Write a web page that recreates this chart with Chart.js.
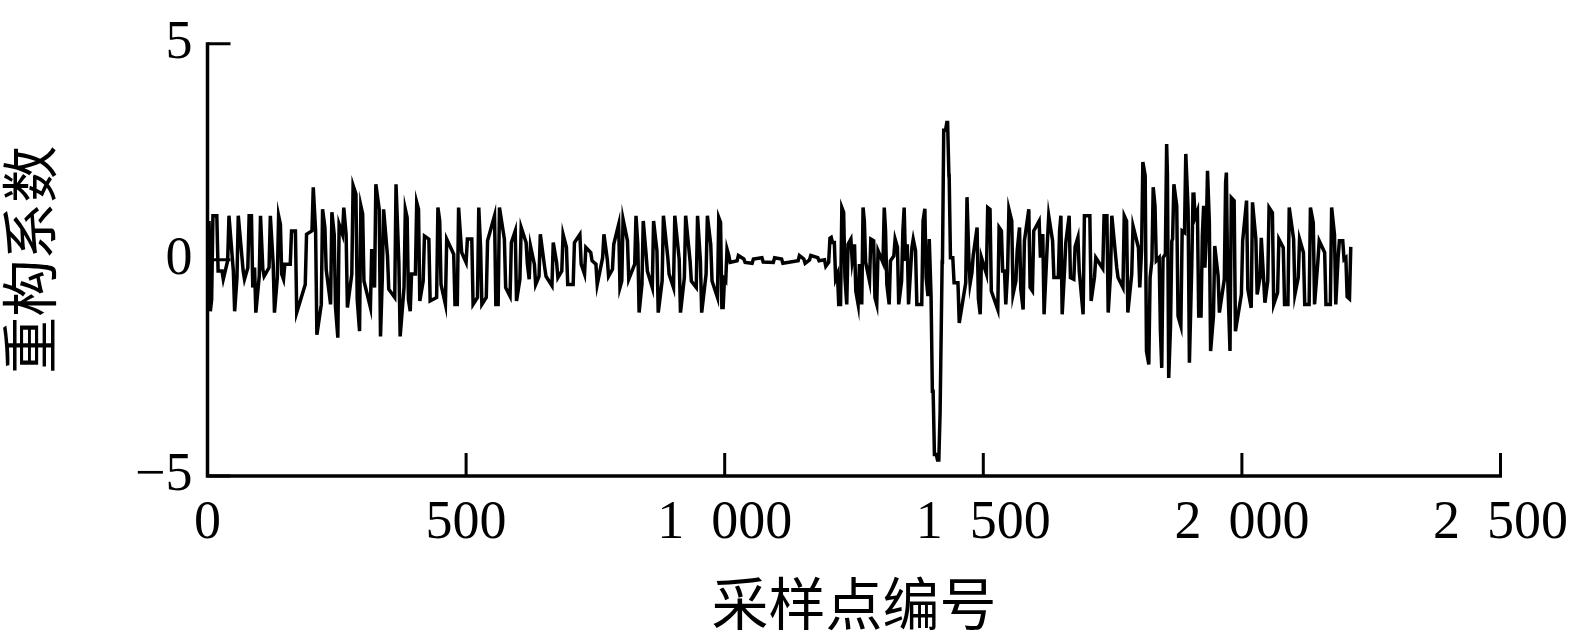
<!DOCTYPE html>
<html>
<head>
<meta charset="utf-8">
<script src="https://cdn.jsdelivr.net/npm/chart.js@4.4.1/dist/chart.umd.min.js"></script>
<style>
html,body{margin:0;padding:0;background:#fff;overflow:hidden}
#wrap{width:1589px;height:644px;position:relative}
</style>
</head>
<body>
<div id="wrap"><canvas id="c" width="1589" height="644"></canvas></div>
<script>
// ---- axis text ----
const xTickValues = [0, 500, 1000, 1500, 2000, 2500];
const xTickLabels = ['0', '500', '1\u2002000', '1\u2002500', '2\u2002000', '2\u2002500'];
const yTickValues = [-5, 0, 5];
const yTickLabels = ['\u22125', '0', '5'];
const xTitle = '采样点编号';
const yTitle = '重构系数';

// ---- signal: sample number, upper and lower end ----
const strokeSample = [
  3, 8, 18, 28, 39, 50, 57, 69, 78, 85, 91, 100, 107, 119, 127, 135, 141, 147, 160, 170,
  189, 202, 209, 220, 227, 238, 245, 252, 261, 268, 279, 287, 294, 300, 315, 323, 332, 338, 348, 362,
  370, 380, 386, 392, 402, 408, 417, 428, 443, 449, 460, 476,
  483, 489, 500, 511, 522, 528, 539, 555, 562, 574, 585, 595, 604, 616, 622, 632, 641, 652,
  666, 675, 685, 694, 707, 720, 729, 741, 751, 764, 773, 783, 795, 801, 812, 826, 832, 840, 848, 860,
  869, 879, 890, 901, 912, 922, 933, 945, 953, 964, 973, 986, 992, 997, 1002, 1008,
  1024, 1037, 1053, 1072, 1094, 1110, 1142, 1153, 1164, 1180, 1193,
  1201, 1206, 1212, 1218, 1224, 1230, 1236, 1244, 1251, 1258, 1265, 1270, 1280, 1288, 1294, 1306, 1311, 1318,
  1327, 1334, 1342, 1347, 1353, 1362, 1369, 1381, 1387, 1393,
  1399, 1403, 1409, 1414, 1418, 1421, 1427, 1431, 1434, 1441, 1451, 1466, 1472, 1478, 1488, 1494, 1506,
  1513, 1528, 1535, 1541, 1547, 1555, 1563, 1570, 1577, 1588, 1595, 1608, 1615, 1624, 1634, 1645, 1650, 1657,
  1666, 1675, 1683, 1693, 1706, 1715, 1731, 1739, 1746, 1758, 1770, 1777, 1787, 1800,
  1806, 1813, 1820, 1826, 1832, 1840, 1845, 1852, 1856, 1862, 1866, 1874, 1882, 1889, 1896, 1903, 1907, 1914,
  1921, 1926, 1931, 1937, 1945, 1954, 1966, 1970, 1977, 1985, 1999, 2009, 2018, 2027, 2035, 2042, 2050, 2059,
  2069, 2080, 2089, 2100, 2109, 2119, 2130, 2138, 2147, 2160, 2171, 2179, 2186, 2195, 2201, 2208
];
const strokeHigh = [
  0.90, 1.02, 1.02, -0.26, 1.02, -0.26, 1.02, -0.26, 1.02, 1.02, -0.18, 1.02, -0.22, 1.02, -0.10, 1.02, 0.82, -0.10, 0.67, 0.67,
  0.59, 1.68, 0.67, 1.17, 0.75, 1.10, 0.59, 0.82, 1.21, 0.59, 1.72, 1.52, 1.25, 1.06, 0.25, 1.75, 1.17, 1.17, 0.09, 1.75,
  -0.06, 1.17, 0.98, -0.33, 1.33, 1.17, 0.55, 0.48, 1.21, 0.90, 0.48, 0.13,
  1.21, 0.59, 0.48, 0.48, 1.21, 0.29, 0.44, 1.02, 1.21, 0.48, 0.40, 0.67, 0.75, 0.40, 0.32, -0.10, 0.59, -0.18,
  0.40, -0.06, 0.59, 0.29, 0.40, 0.59, 0.29, 0.17, -0.10, 0.59, 0.01, 0.36, 0.82, 0.94, 0.44, 1.02, 0.36, 0.90, 0.13, 0.90,
  0.21, 1.02, 0.05, 1.02, 0.01, 1.02, -0.02, 1.02, -0.02, 1.02, 0.36, 0.98, 0.87, -0.45, 0.25, 0.10,
  0.10, 0.02, 0.02, 0.05, 0.05, 0.02, 0.10, 0.02, 0.10, 0.05, 0.00,
  0.50, 0.52, 0.40, -0.33, 1.21, 1.10, 0.36, 0.48, 0.36, -0.10, 1.21, 0.90, 0.48, 0.44, 0.21, 1.21, 0.67, -0.02,
  0.48, 0.29, 0.67, 1.21, 0.36, 0.48, 0.21, 0.90, 1.18, 0.48,
  -0.84, -3.04, -4.50, -3.51, 0.00, 3.00, 3.18, 3.18, 1.95, 0.05, -0.53, 1.45, 0.05, 0.10, 0.75, 0.05, 1.21,
  1.17, 0.75, 0.67, -0.26, 1.17, 0.90, 0.21, 0.75, 0.44, 1.17, 0.67, 0.90, 0.60, 1.02, 0.44, 0.67, 1.02, 0.40,
  1.02, 0.30, 0.52, 1.02, 1.02, 0.05, 1.02, 1.02, 1.02, -0.18, 1.02, 0.90, 0.78, 0.28,
  2.26, 1.95, -0.41, 1.68, 1.25, 0.05, 0.05, 2.68, 1.99, 0.44, 1.75, 1.25, 0.67, 2.45, 1.17, 1.52, 1.56, 1.13,
  0.55, 1.25, 2.06, 0.90, 0.32, -0.37, 1.79, 2.02, 1.44, 1.37, 0.44, 1.37, 1.33, 0.48, 0.51, -0.45, 1.21, 1.09,
  0.48, 0.28, 1.21, 0.48, 0.48, 0.17, 1.21, 0.86, 0.44, 0.17, 1.21, 0.59, 0.44, 0.44, 0.05, 0.30
];
const strokeLow = [
  -1.19, -0.92, -0.26, -0.45, -0.02, -1.19, -0.41, -0.45, -0.18, -0.64, -1.22, -0.38, -0.38, -0.18, -1.22, -0.41, -0.33, -0.45, -0.10, -1.22,
  -0.57, 0.67, -1.73, -1.03, -0.22, -1.03, -1.10, -1.80, 0.59, -1.10, -0.33, -0.92, -1.65, -0.49, -1.10, -0.64, -1.77, -0.41, -0.68, -0.87,
  -1.77, -0.64, -0.92, -1.19, -0.33, -0.95, -0.49, -0.95, -0.87, -0.57, -1.03, -1.03,
  -1.03, 0.17, -0.06, -1.03, -0.87, -1.03, -0.87, -1.03, -1.03, -0.64, -0.84, -0.95, -0.45, -0.10, -0.45, -0.57, -0.38, -0.38,
  -0.60, -0.41, -0.26, -0.57, -0.57, -0.10, -0.33, -0.02, -0.57, 0.05, -0.38, -0.22, -0.64, -0.49, -0.45, -0.10, -1.22, -0.57, -0.26, -0.64,
  -1.22, -0.49, -0.33, -0.64, -1.22, -0.41, -0.49, -0.64, -1.22, -0.33, -0.49, -0.87, -1.10, -1.10, -0.49, -0.06,
  -0.02, -0.06, -0.08, -0.05, -0.06, -0.08, -0.02, -0.08, 0.00, -0.02, -0.15,
  -0.06, 0.40, -0.44, -1.03, -1.03, -0.41, -1.03, -0.02, -0.72, -1.03, -1.03, -0.06, -0.49, -0.87, -1.03, -0.06, -0.57, -1.03,
  0.09, -1.03, -0.49, -0.02, -1.03, 0.29, -1.03, -1.03, -0.41, -0.84,
  -3.04, -4.50, -4.63, -4.63, -3.51, -0.10, 3.00, 1.95, 0.05, -0.53, -1.46, -0.53, -0.55, -0.30, -0.90, -1.26, -0.32,
  -0.72, -1.15, -0.26, -1.03, -0.26, -0.80, -0.49, -0.68, -1.15, -0.64, -0.72, 0.05, -1.26, 0.44, -0.41, -0.41, -1.26, -0.26,
  -0.41, -0.45, -0.26, -1.26, -0.95, -0.40, -0.20, -1.22, -0.33, -0.41, -0.64, -1.22, -0.33, -0.64,
  0.21, -2.11, -2.42, -0.02, -0.02, -1.65, -2.50, 0.13, -2.73, -1.53, 0.48, -1.30, -1.53, 0.63, -2.38, -0.18, 0.98, -1.30,
  -1.30, -0.18, 0.55, -2.11, -1.30, -1.22, -0.45, -0.41, -2.11, -1.65, -0.80, -0.68, -1.11, -0.80, -0.41, -0.99, -0.49, -1.03,
  -0.76, -1.03, -1.03, -0.80, -0.41, -1.03, -1.03, -1.03, -0.02, -1.03, -1.03, -1.03, 0.05, 0.01, -0.85, -0.90
];

// build the polyline: each stroke starts at the end nearer to where the line is
const points = [];
let prev = 0;
for (let i = 0; i < strokeSample.length; i++) {
  const hi = strokeHigh[i], lo = strokeLow[i];
  const hiFirst = Math.abs(prev - hi) <= Math.abs(prev - lo);
  const a = hiFirst ? hi : lo, b = hiFirst ? lo : hi;
  points.push({x: strokeSample[i], y: a});
  points.push({x: strokeSample[i] + 2.5, y: b});
  prev = b;
}

const serif = '"Liberation Serif", "Times New Roman", serif';
const cjk = '"Noto Sans CJK SC", "Noto Sans CJK JP", sans-serif';

const axesPlugin = {
  id: 'axesPlugin',
  afterDraw(chart) {
    const {ctx, chartArea: a, scales: {x, y}} = chart;
    ctx.save();
    ctx.strokeStyle = '#000';
    ctx.lineCap = 'butt';
    ctx.lineWidth = 3;
    ctx.beginPath();
    xTickValues.forEach(v => {
      const px = x.getPixelForValue(v);
      ctx.moveTo(px, a.bottom);
      ctx.lineTo(px, a.bottom - 23);
    });
    yTickValues.forEach(v => {
      const py = y.getPixelForValue(v);
      ctx.moveTo(a.left, py);
      ctx.lineTo(a.left + 23, py);
    });
    ctx.stroke();
    ctx.lineWidth = 3.5;
    ctx.lineJoin = 'miter';
    ctx.beginPath();
    ctx.moveTo(a.left, a.top - 1.5);
    ctx.lineTo(a.left, a.bottom);
    ctx.lineTo(a.right + 1.5, a.bottom);
    ctx.stroke();
    ctx.restore();
  }
};

new Chart(document.getElementById('c'), {
  type: 'line',
  data: {
    datasets: [{
      data: points,
      borderColor: '#000',
      borderWidth: 3.5,
      borderJoinStyle: 'miter',
      pointRadius: 0,
      tension: 0,
      fill: false
    }]
  },
  options: {
    responsive: false,
    devicePixelRatio: 1,
    animation: false,
    parsing: false,
    layout: {padding: {top: 43.7, right: 69, bottom: 0, left: 0}},
    plugins: {legend: {display: false}, tooltip: {enabled: false}},
    scales: {
      x: {
        type: 'linear',
        min: 0, max: 2500,
        afterFit: s => { s.height = 644 - 476; },
        afterBuildTicks: s => { s.ticks = xTickValues.map(v => ({value: v})); },
        grid: {display: false, drawTicks: false},
        border: {display: false},
        ticks: {
          padding: 21,
          color: '#000',
          maxRotation: 0,
          autoSkip: false,
          font: {family: serif, size: 54, lineHeight: 1},
          callback: v => { const i = xTickValues.indexOf(v); return i >= 0 ? xTickLabels[i] : ''; }
        },
        title: {
          display: true, text: xTitle, color: '#000',
          font: {family: cjk, size: 57, lineHeight: 1},
          padding: {top: 0, bottom: 12}
        }
      },
      y: {
        type: 'linear',
        min: -5, max: 5,
        afterFit: s => { s.width = 207.5; },
        afterBuildTicks: s => { s.ticks = yTickValues.map(v => ({value: v})); },
        grid: {display: false, drawTicks: false},
        border: {display: false},
        ticks: {
          padding: 15,
          color: '#000',
          autoSkip: false,
          font: {family: serif, size: 54, lineHeight: 1},
          callback: v => { const i = yTickValues.indexOf(v); return i >= 0 ? yTickLabels[i] : ''; }
        },
        title: {
          display: true, text: yTitle, color: '#000',
          font: {family: cjk, size: 57, lineHeight: 1},
          padding: {top: 1, bottom: 0}
        }
      }
    }
  },
  plugins: [axesPlugin]
});
</script>
</body>
</html>
